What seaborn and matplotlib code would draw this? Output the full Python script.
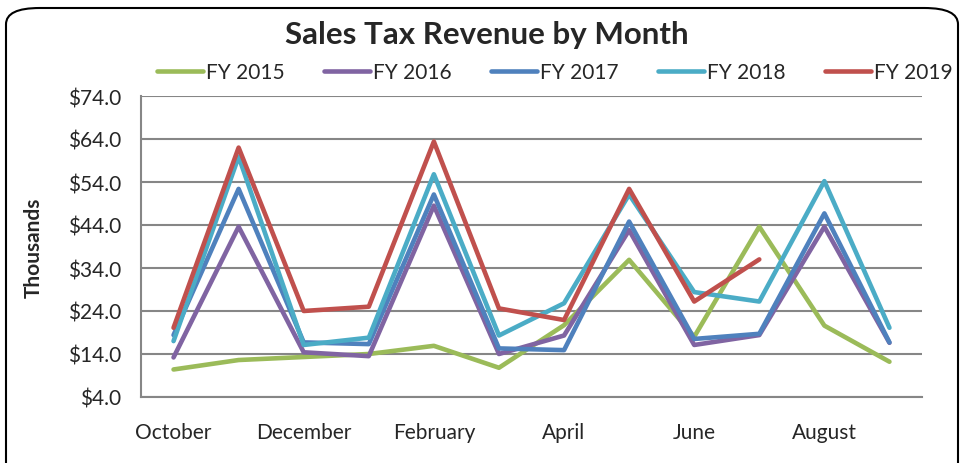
import numpy as np
import pandas as pd

import matplotlib
matplotlib.use("Agg")
import matplotlib.pyplot as plt
from matplotlib.patches import FancyBboxPatch
from matplotlib.ticker import FixedLocator, FuncFormatter
import seaborn as sns

# Datos (miles de dólares)
meses = ["October", "November", "December", "January", "February", "March",
         "April", "May", "June", "July", "August", "September"]

fy2015 = [10.4, 12.6, 13.3, 14.0, 15.9, 10.8, 20.7, 35.9, 18.0, 43.6, 20.6, 12.2]
fy2016 = [13.2, 43.6, 14.4, 13.5, 48.5, 14.0, 18.3, 42.8, 16.1, 18.4, 43.6, 16.6]
fy2017 = [18.4, 52.4, 16.7, 16.3, 51.1, 15.3, 14.9, 44.8, 17.5, 18.7, 46.7, 16.7]
fy2018 = [17.0, 59.9, 16.1, 17.8, 55.8, 18.3, 25.8, 51.1, 28.4, 26.2, 54.2, 20.1]
fy2019 = [20.1, 62.0, 24.0, 25.0, 63.4, 24.6, 21.9, 52.4, 26.2, 36.0, np.nan, np.nan]

series = {
    "FY 2015": fy2015,
    "FY 2016": fy2016,
    "FY 2017": fy2017,
    "FY 2018": fy2018,
    "FY 2019": fy2019,
}

colores = {
    "FY 2015": "#9BBB59",
    "FY 2016": "#8064A2",
    "FY 2017": "#4F81BD",
    "FY 2018": "#4BACC6",
    "FY 2019": "#C0504D",
}

df = pd.DataFrame({
    "pos": np.tile(np.arange(len(meses)), len(series)),
    "mes": meses * len(series),
    "serie": np.repeat(list(series.keys()), len(meses)),
    "valor": np.concatenate([np.array(v, dtype=float) for v in series.values()]),
})
df = df.dropna()

sns.set_style("white")
plt.rcParams["font.family"] = ["Lato", "DejaVu Sans"]

W, H = 962, 464
fig = plt.figure(figsize=(W / 100, H / 100), dpi=100)
ax = fig.add_axes([141 / W, 1 - 398 / H, (922 - 141) / W, (398 - 97) / H])

gris = "#868686"
tam = 15

sns.lineplot(
    data=df,
    x="pos",
    y="valor",
    hue="serie",
    palette=colores,
    linewidth=3.3,
    sort=False,
    legend=True,
    ax=ax,
)

ax.set_xlim(-0.5, len(meses) - 0.5)
ax.set_ylim(4, 74)

ax.yaxis.set_major_locator(FixedLocator(np.arange(4, 75, 10)))
ax.yaxis.set_major_formatter(FuncFormatter(lambda v, p: f"${v:.1f}"))
ax.grid(axis="y", color=gris, linewidth=1.5)
ax.set_axisbelow(True)

ax.set_xticks(np.arange(0, len(meses), 2))
ax.set_xticklabels(meses[::2])
ax.set_xticks(np.arange(-0.5, len(meses), 1), minor=True)
ax.tick_params(axis="x", which="major", length=0, pad=18, labelsize=tam)
ax.tick_params(axis="x", which="minor", length=6, width=1.5, color=gris, direction="out")
ax.tick_params(axis="y", length=6, width=1.5, color=gris, direction="out", pad=8, labelsize=tam)

for lado in ["top", "right"]:
    ax.spines[lado].set_visible(False)
for lado in ["left", "bottom"]:
    ax.spines[lado].set_color(gris)
    ax.spines[lado].set_linewidth(1.5)

ax.set_xlabel("")
ax.set_ylabel("Thousands", fontsize=tam, fontweight="bold", labelpad=18)

handles, labels = ax.get_legend_handles_labels()
ax.legend_.remove()
fig.legend(
    handles, labels,
    loc="center",
    bbox_to_anchor=(555 / W, 1 - 73 / H),
    ncol=5,
    frameon=False,
    fontsize=tam,
    handlelength=2.2,
    handletextpad=0.15,
    columnspacing=1.9,
)

fig.text(487 / W, 1 - 35 / H, "Sales Tax Revenue by Month",
         ha="center", va="center", fontsize=22.5, fontweight="bold")

borde = FancyBboxPatch(
    (6 / W, -20 / H), (952) / W, (464 - 9 + 20) / H,
    boxstyle="round,pad=0,rounding_size=0.035",
    transform=fig.transFigure,
    facecolor="none", edgecolor="black", linewidth=1.5,
)
fig.patches.append(borde)

fig.savefig("out.png", dpi=100)
